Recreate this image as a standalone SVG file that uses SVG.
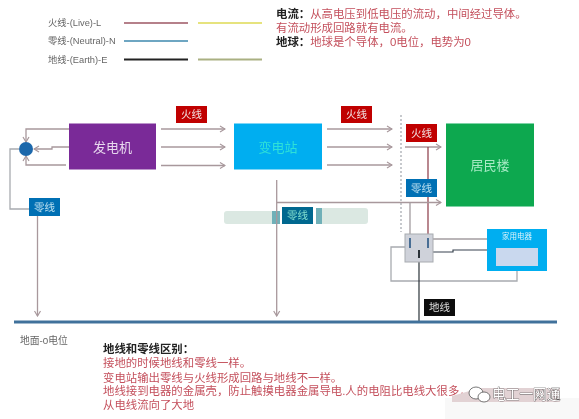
<svg xmlns="http://www.w3.org/2000/svg" width="579" height="419" viewBox="0 0 579 419">
<style>
text{font-family:"Liberation Sans","Noto Sans CJK SC",sans-serif}
.lg{font-size:9.3px;fill:#666}
.t{font-size:11.4px;fill:#c4505c}
.b{font-weight:bold;fill:#222}
.w{font-size:10.5px;text-anchor:middle;fill:#f2e4e4}
.n{font-size:13px;text-anchor:middle}
.c{fill:none;stroke:#a39ca0;stroke-width:1.3}
.a{fill:none;stroke:#a8989c;stroke-width:1.3;marker-end:url(#ar)}
.g{fill:none;stroke:#a8abb0;stroke-width:1.3}
</style>
<defs>
<filter id="s" x="-5%" y="-5%" width="110%" height="110%"><feGaussianBlur stdDeviation="0.35"/></filter>
<marker id="ar" markerUnits="userSpaceOnUse" markerWidth="7" markerHeight="8" refX="6" refY="4" orient="auto"><path d="M1 1L6 4L1 7" fill="none" stroke="#a8989c" stroke-width="1.2"/></marker>
</defs>
<rect width="579" height="419" fill="#fff"/>
<g filter="url(#s)">
<g id="legend">
<text class="lg" x="48" y="26">火线-(Live)-L</text>
<text class="lg" x="48" y="44">零线-(Neutral)-N</text>
<text class="lg" x="48" y="63">地线-(Earth)-E</text>
<path d="M124 23H188" stroke="#b5808a" stroke-width="2.2"/>
<path d="M198 23H262" stroke="#e6e37e" stroke-width="2.2"/>
<path d="M124 41H188" stroke="#6ea6c2" stroke-width="2.2"/>
<path d="M124 59.500H188" stroke="#222" stroke-width="2.2"/>
<path d="M198 59.500H262" stroke="#aab082" stroke-width="2.2"/>
</g>
<g id="notes-top">
<text class="t" x="276" y="18"><tspan class="b">电流：</tspan>从高电压到低电压的流动，中间经过导体。</text>
<text class="t" x="276" y="32">有流动形成回路就有电流。</text>
<text class="t" x="276" y="46"><tspan class="b">地球：</tspan>地球是个导体，0电位，电势为0</text>
</g>
<g id="blotches" fill="#dbe8e2">
<rect x="224" y="211" width="50" height="13" rx="3"/>
<rect x="320" y="208" width="48" height="16" rx="3"/>
<rect x="272" y="211" width="8" height="13" fill="#6fb0b8"/>
<rect x="316" y="208" width="6" height="16" fill="#6fb0b8"/>
</g>
<g id="connectors">
<path class="a" d="M161 129H225"/><path class="a" d="M161 147H225"/><path class="a" d="M161 165.500H225"/>
<path class="a" d="M327 129H392"/><path class="a" d="M327 147H392"/><path class="a" d="M327 165H392"/>
<path d="M401 115V232" fill="none" stroke="#a9adb3" stroke-width="1.3" stroke-dasharray="2 2"/>
<path class="a" d="M405 147H441"/>
<path d="M428 147V240" fill="none" stroke="#8a3a44" stroke-width="1.2"/>
<path class="a" d="M277 202.500H441"/>
<path class="c" d="M410 202.500V240"/>
<path class="a" d="M276.700 180V316"/>
<path class="a" d="M37.500 216V316"/>
<path class="a" d="M69 129H26V142"/>
<path class="a" d="M69 147H52V149H34"/>
<path class="a" d="M66 165H26V156"/>
<path class="g" d="M19 149H10V209H29"/>
<path class="g" d="M405 247H391V281H517V266"/>
<path class="c" d="M433 239H487"/>
<path d="M419 252H453V250H487" fill="none" stroke="#3a4450" stroke-width="1.2"/>
<path d="M419 250V322" fill="none" stroke="#2b3138" stroke-width="1.2"/>
<path d="M14 322H557" stroke="#41719b" stroke-width="3"/>
</g>
<g id="node-joint"><circle cx="26" cy="149" r="7" fill="#1f68ab"/></g>
<g id="generator"><rect x="69" y="123.500" width="87" height="46" fill="#7a2c98"/><text class="n" x="112.500" y="152" fill="#e8d8ee">发电机</text></g>
<g id="substation"><rect x="234" y="123.500" width="88" height="46" fill="#01aef0"/><text class="n" x="278" y="152" fill="#2fe0d8">变电站</text></g>
<g id="residence"><rect x="446" y="123.500" width="88" height="83" fill="#08a850"/><text class="n" x="490" y="170" fill="#a8eac4">居民楼</text></g>
<g id="live-1"><rect x="176" y="106" width="31" height="17" fill="#c00000"/><text class="w" x="191.500" y="118">火线</text></g>
<g id="live-2"><rect x="341" y="106" width="31" height="17" fill="#c00000"/><text class="w" x="356.500" y="118">火线</text></g>
<g id="live-3"><rect x="406" y="124" width="31" height="18" fill="#c00000"/><text class="w" x="421.500" y="137">火线</text></g>
<g id="neutral-1"><rect x="29" y="198" width="31" height="18" fill="#0670b4"/><text class="w" x="44.500" y="211" style="fill:#b8e0f0">零线</text></g>
<g id="neutral-2"><rect x="282" y="207" width="31" height="17" fill="#05688f"/><text class="w" x="297.500" y="219" style="fill:#7fe0d0">零线</text></g>
<g id="neutral-3"><rect x="406" y="179" width="31" height="18" fill="#0670b4"/><text class="w" x="421.500" y="192" style="fill:#b8e0f0">零线</text></g>
<g id="earth-label"><rect x="424" y="299" width="31" height="17" fill="#111"/><text class="w" x="439.500" y="311" style="fill:#ddd">地线</text></g>
<g id="socket"><rect x="405" y="234" width="28" height="28" fill="#cfd2da" stroke="#a8abb0"/>
<path d="M410 238V248M428 238V248" stroke="#4a6e94" stroke-width="2"/><path d="M419 250V258" stroke="#2b3138" stroke-width="2"/></g>
<g id="appliance"><rect x="487" y="229" width="60" height="42" fill="#01aef0"/><rect x="496" y="248" width="42" height="18" fill="#c9d8ee"/><text x="517" y="239" font-size="7.500" text-anchor="middle" fill="#d8f2fa">家用电器</text></g>
<g id="ground-label"><text class="lg" x="20" y="344" style="font-size:9.800px">地面-0电位</text></g>
<g id="notes-bottom">
<text class="t" x="103" y="353" style="fill:#222;font-weight:bold">地线和零线区别：</text>
<text class="t" x="103" y="367">接地的时候地线和零线一样。</text>
<text class="t" x="103" y="382">变电站输出零线与火线形成回路与地线不一样。</text>
<text class="t" x="103" y="395">地线接到电器的金属壳，防止触摸电器金属导电.人的电阻比电线大很多，</text>
<text class="t" x="103" y="409">从电线流向了大地</text>
</g>
<g id="watermark">
<rect x="445" y="398" width="134" height="21" fill="#f8f8f8"/>
<path d="M452 396L480 388H560V402H452Z" fill="#e2d2d4"/>
<ellipse cx="476" cy="393" rx="7" ry="6" fill="#fff" stroke="#555" stroke-width="0.8"/>
<ellipse cx="484" cy="397" rx="6" ry="5" fill="#fff" stroke="#555" stroke-width="0.8"/>
<text x="492" y="399" font-size="13.700" fill="#fff" stroke="#333" stroke-width="0.6" paint-order="stroke">电工一网通</text>
</g>
</g>
</svg>
